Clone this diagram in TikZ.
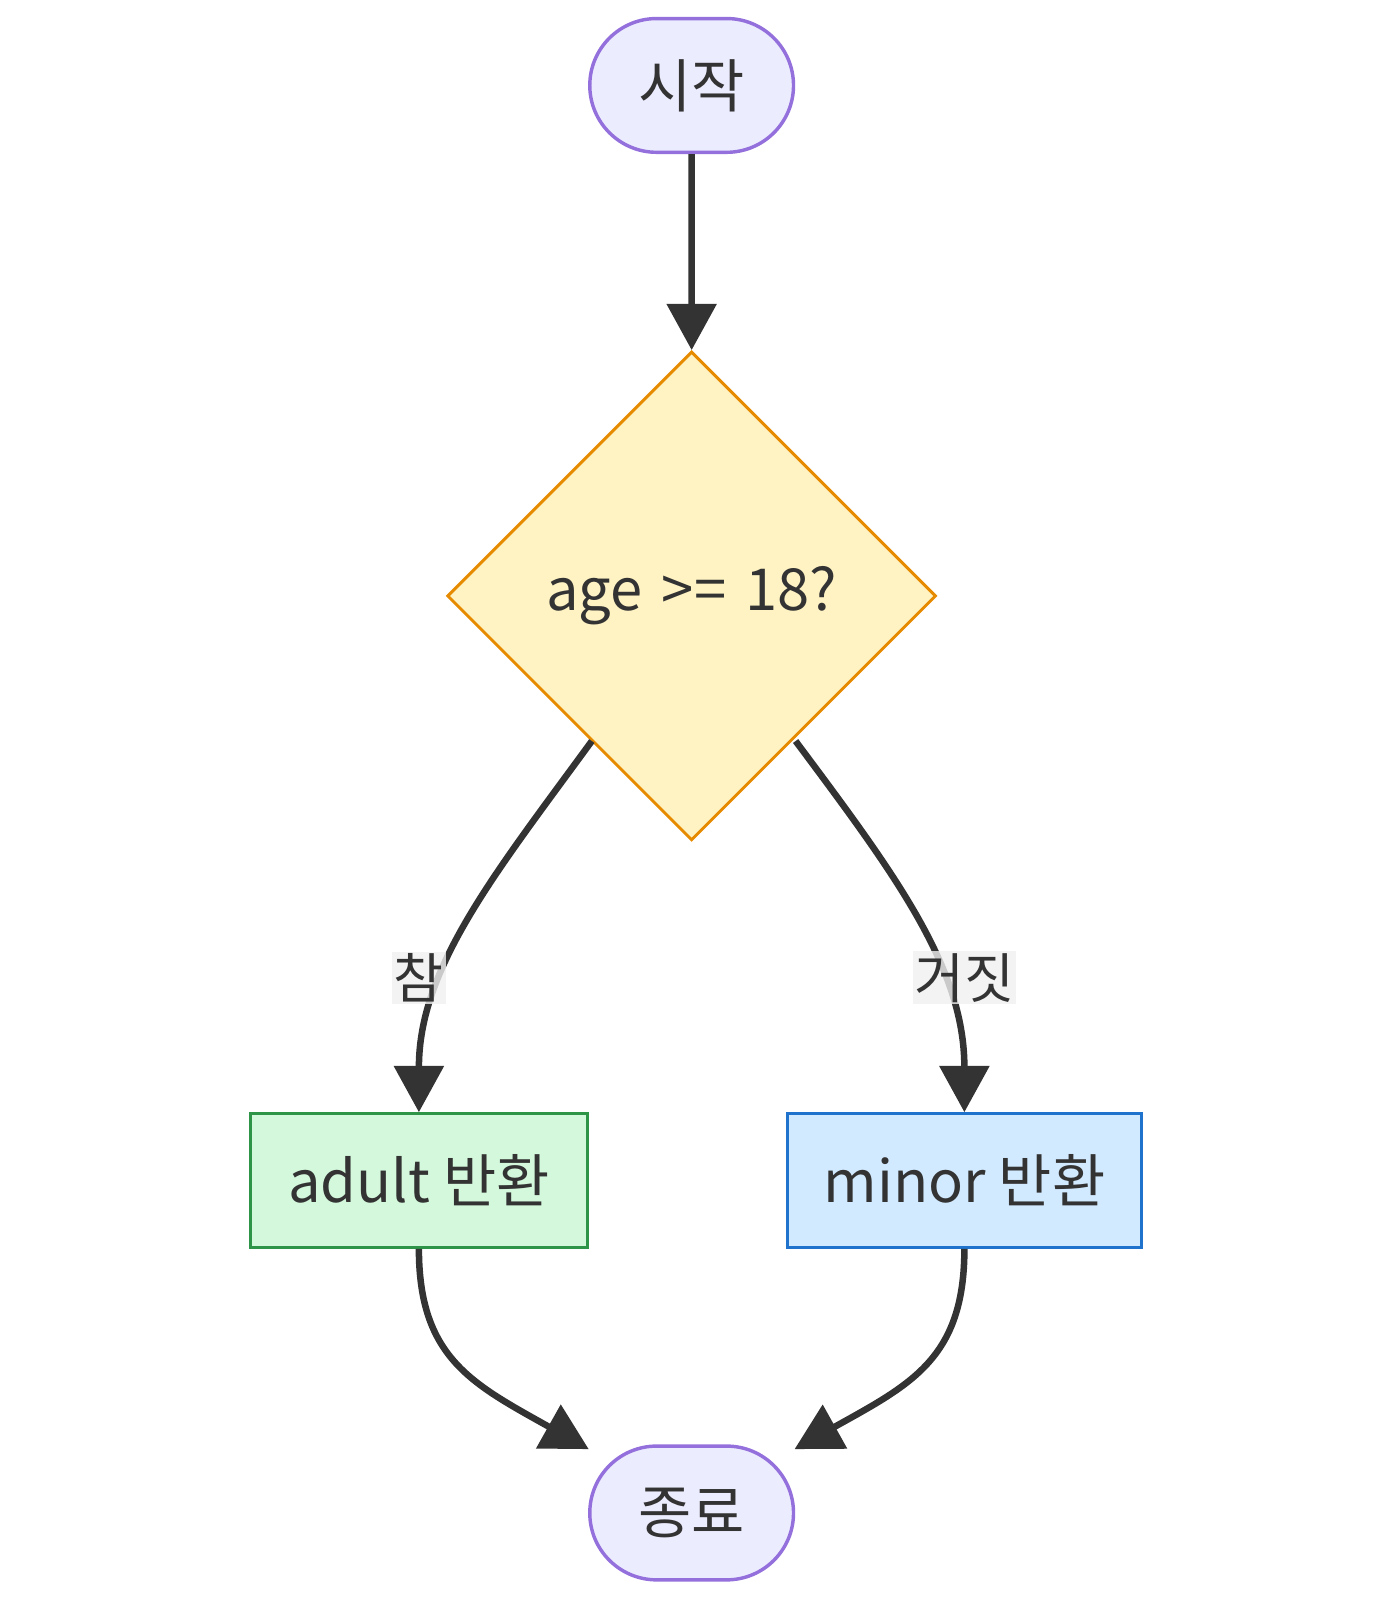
\documentclass[tikz,border=0pt]{standalone}
\usepackage{fontspec}
\setmainfont{Noto Sans CJK KR}
\usetikzlibrary{shapes.geometric,shapes.misc,arrows.meta}
\definecolor{termfill}{HTML}{ECECFF}
\definecolor{termdraw}{HTML}{9370DB}
\definecolor{decfill}{HTML}{FFF3C4}
\definecolor{decdraw}{HTML}{E68A00}
\definecolor{okfill}{HTML}{D4F8DC}
\definecolor{okdraw}{HTML}{2E9447}
\definecolor{nofill}{HTML}{D2EAFF}
\definecolor{nodraw}{HTML}{1F73CC}
\definecolor{ink}{HTML}{333333}
\tikzset{
  term/.style={rounded rectangle, fill=termfill, draw=termdraw, line width=1.9pt, minimum width=3.96cm, minimum height=2.6cm, inner sep=0pt},
  dec/.style={diamond, fill=decfill, draw=decdraw, line width=1.6pt, minimum width=9.5cm, minimum height=9.5cm, inner sep=0pt, text width=0pt, align=center},
  box/.style={rectangle, line width=1.6pt, minimum height=2.6cm, inner sep=0pt},
  flow/.style={ink, line width=3.6pt, -{Triangle[length=0.9cm,width=0.95cm]}},
  lbl/.style={fill=gray!12, fill opacity=0.8, text opacity=1, inner sep=1pt, font=\fontsize{30}{34}\selectfont, text=ink}
}
\begin{document}
\begin{tikzpicture}[x=0.02cm,y=-0.02cm,font=\fontsize{32}{38}\selectfont,text=ink]
\useasboundingbox (0,0) rectangle (1360,1574);
\node[term] (start) at (672,83) {시작};
\node[dec] (cond) at (672,579) {\makebox[0pt]{age >= 18?}};
\node[box, fill=okfill, draw=okdraw, minimum width=6.56cm] (adult) at (407,1147) {adult 반환};
\node[box, fill=nofill, draw=nodraw, minimum width=6.88cm] (minor) at (937,1147) {minor 반환};
\node[term] (stop) at (672,1470) {종료};
\coordinate (cl) at (575,720);
\coordinate (cr) at (773,720);
\coordinate (el) at (572,1408);
\coordinate (er) at (772,1408);
\draw[flow] (start) -- (cond.north);
\draw[flow] (cl) .. controls (480,850) and (407,940) .. (adult.north);
\draw[flow] (cr) .. controls (870,850) and (937,940) .. (minor.north);
\node[lbl] (yes) at (407,950) {참};
\node[lbl] (no) at (937,950) {거짓};
\draw[flow] (adult.south) .. controls (407,1320) and (460,1345) .. (el);
\draw[flow] (minor.south) .. controls (937,1320) and (885,1345) .. (er);
\end{tikzpicture}
\end{document}
